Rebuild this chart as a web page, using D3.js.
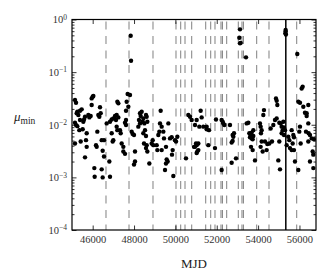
<!DOCTYPE html>
<html>
<head>
<meta charset="utf-8">
<script src="https://cdn.jsdelivr.net/npm/d3@7"></script>
<style>
  body { margin: 0; background: #fff; }
  svg { display: block; }
</style>
</head>
<body>
<svg id="chart"></svg>
<script>
// ---- data ----
let mjd = [
  45145, 45194, 45226, 45258, 45307, 45387, 45468, 45548, 45145, 45194, 45387, 45581, 45710,
  45355, 45516, 45677, 45710, 45629, 45629, 45420, 45145, 45258,
  46000, 45951, 46032, 45951, 45790, 45903, 45839, 46354, 46274, 46322, 46387, 46225, 46161,
  46193, 46435, 46548, 46483, 46548, 46806, 46080, 46096, 46435, 46483, 46838, 46677, 46838,
  46919, 46999, 47080, 47160, 47241, 47128, 47193, 47241, 46919, 46999, 46967, 47160, 47193,
  47322, 47354, 47402, 47483, 47483, 47563, 47563, 47612, 47612, 47644, 47692, 47805, 47612,
  47725, 47838, 47855, 47886, 47934, 47999, 48047, 47999, 48047, 48208, 48289, 48240, 48289,
  48369, 48321, 48450, 48418, 48498, 48579, 48611, 48643, 48531, 48450, 48579, 48482, 48579,
  48643, 48611, 48740, 48853, 48934, 48901, 49095, 49127, 49175, 49224, 49288, 49256, 49336,
  49417, 49449, 49546, 49336, 49546, 49627, 49498, 49578, 49659, 49740, 49820, 49869, 49836,
  49901, 49981, 50030, 50094, 50513, 50626, 50707, 50949, 51029, 50997, 50900, 51029, 51110,
  50787, 50948, 51028, 51061, 51109, 51157, 51270, 51222, 51351, 51512, 51512, 51593, 51625,
  51915, 51963, 52286, 52318, 52237, 52366, 52640, 52721, 52769, 52802, 52834, 52769, 52721,
  52931, 52237, 53446, 53527, 53575, 53640, 53688, 53769, 53688, 53608, 53769, 53737, 53656,
  53737, 53849, 54091, 54123, 54172, 54284, 54252, 54139, 54123, 54220, 54172, 54333, 54414,
  54446, 54543, 54607, 54672, 54736, 54817, 54865, 54898, 54930, 54898, 55026, 55091, 55026,
  54978, 55059, 55139, 55187, 55139, 55220, 55252, 55300, 55252, 55381, 55461, 55510, 55542,
  55623, 55671, 55735, 55623, 55703, 55784, 55735, 55945, 56026, 55993, 56058, 56106, 56154,
  55945, 56026, 56187, 56267, 56348, 56348, 56428, 56428, 56316, 56445, 56428, 56509, 56590,
  56509, 56638, 56670, 56670, 56702,
  53124, 53092, 53157, 53124, 53415, 55332, 55320, 55345, 55332, 55895
]
let mu = [
  0.0295, 0.0262, 0.0165, 0.0177, 0.0153, 0.0185, 0.0196, 0.0114, 0.0109, 0.0099, 0.0123, 0.0126, 0.0069,
  0.0079, 0.0082, 0.0051, 0.0038, 0.0024, 0.0142, 0.0048, 0.0044, 0.0094,
  0.0341, 0.0317, 0.0352, 0.0237, 0.0153, 0.0147, 0.0138, 0.0215, 0.0153, 0.0142, 0.0165, 0.0074, 0.0041,
  0.0038, 0.0051, 0.0051, 0.0032, 0.0025, 0.0020, 0.0015, 0.00103, 0.00142, 0.00100, 0.00103, 0.0106, 0.0114,
  0.0126, 0.0132, 0.0147, 0.0153, 0.0138, 0.0123, 0.0274, 0.0255, 0.0069, 0.0051, 0.0048, 0.0092, 0.0079,
  0.0079, 0.0069, 0.0044, 0.0038, 0.0031, 0.0028, 0.0109, 0.0099, 0.0123, 0.0274, 0.0384, 0.0367, 0.0185,
  0.022, 0.49, 0.165, 0.0074, 0.0067, 0.0064, 0.0020, 0.00176, 0.0031, 0.0092, 0.0106, 0.0123, 0.0165,
  0.0177, 0.0147, 0.0132, 0.0114, 0.0106, 0.0153, 0.0142, 0.0114, 0.0079, 0.0069, 0.0061, 0.0044, 0.0036,
  0.0031, 0.0041, 0.00184, 0.0044, 0.0041, 0.0051, 0.0041, 0.0033, 0.0064, 0.0074, 0.0185, 0.0106, 0.0092,
  0.0074, 0.0055, 0.0038, 0.0033, 0.00184, 0.0020, 0.00138, 0.0022, 0.0106, 0.0055, 0.0058, 0.0033, 0.0027,
  0.00106, 0.0051, 0.0048, 0.0059, 0.0023, 0.0153, 0.0142, 0.0099, 0.0123, 0.0044, 0.0038, 0.0029, 0.0033,
  0.0123, 0.0038, 0.0041, 0.0031, 0.0044, 0.0092, 0.0138, 0.0185, 0.0092, 0.0092, 0.0082, 0.0041, 0.0079,
  0.0036, 0.0126, 0.0114, 0.0106, 0.0123, 0.0099, 0.0099, 0.0046, 0.0064, 0.0059, 0.0069, 0.0049, 0.0019,
  0.0023, 0.00138, 0.0106, 0.0109, 0.0069, 0.0064, 0.0055, 0.0061, 0.0071, 0.0058, 0.0079, 0.0053, 0.0038,
  0.0033, 0.0021, 0.0106, 0.0092, 0.0079, 0.019, 0.0153, 0.0069, 0.0038, 0.0031, 0.0048, 0.0048, 0.0033,
  0.0043, 0.0044, 0.0085, 0.0048, 0.0099, 0.0123, 0.0317, 0.0286, 0.0237, 0.0132, 0.0109, 0.0106, 0.0048,
  0.0021, 0.00142, 0.0092, 0.0079, 0.0069, 0.0114, 0.0089, 0.0079, 0.0064, 0.0041, 0.0059, 0.0051, 0.0036,
  0.0033, 0.0044, 0.0058, 0.0079, 0.0064, 0.0020, 0.0033, 0.00138, 0.0092, 0.0074, 0.0044, 0.049, 0.053,
  0.0274, 0.0262, 0.022, 0.0169, 0.0165, 0.0147, 0.0237, 0.0106, 0.0074, 0.0069, 0.0048, 0.0064, 0.0055,
  0.0020, 0.0031, 0.0027, 0.0015, 0.0053,
  0.65, 0.45, 0.36, 0.352, 0.191, 0.59, 0.55, 0.52, 0.63, 0.221
]
// dashed epochs and the solid one
let dashedMjd = [46644, 47757, 48917, 50029, 50257, 50465, 50789, 51466, 51708, 51915,
                 52205, 52275, 52481, 53042, 53220, 53290, 53932, 54527, 55867]
let solidMjd = 55340

let xTicks = [46000, 48000, 50000, 52000, 54000, 56000]
let yTicks = [1e-4, 1e-3, 1e-2, 1e-1, 1]
let yExp = ['\u22124', '\u22123', '\u22122', '\u22121', '0']

let width = 330
let height = 280
let pLeft = 72, pRight = 316, pTop = 19.5, pBottom = 230

let svg = d3.select('#chart').attr('width', width).attr('height', height)
let font = '"Liberation Serif", "DejaVu Serif", serif'

let xScale = d3.scaleLinear().domain([45000, 56800]).range([pLeft, pRight])
let yScale = d3.scaleLog().domain([1e-4, 1]).range([pBottom, pTop])

svg.append('defs').append('clipPath').attr('id', 'clip')
   .append('rect').attr('x', pLeft).attr('y', pTop)
   .attr('width', pRight - pLeft).attr('height', pBottom - pTop)

let plot = svg.append('g').attr('clip-path', 'url(#clip)')

// vertical lines
plot.selectAll('line.dash')
    .data(dashedMjd)
    .enter()
    .append('line')
    .attr('class', 'dash')
    .attr('x1', d => xScale(d)).attr('x2', d => xScale(d))
    .attr('y1', pTop + 2).attr('y2', pBottom)
    .attr('stroke', '#808080')
    .attr('stroke-width', 1)
    .attr('stroke-dasharray', '8,6.5')

plot.append('line')
    .attr('x1', xScale(solidMjd)).attr('x2', xScale(solidMjd))
    .attr('y1', pTop).attr('y2', pBottom)
    .attr('stroke', '#000')
    .attr('stroke-width', 1.5)

// points
plot.selectAll('circle')
    .data(mjd.map((m, i) => ({ m: m, v: mu[i] })))
    .enter()
    .append('circle')
    .attr('cx', d => xScale(d.m))
    .attr('cy', d => yScale(d.v))
    .attr('r', 2.2)
    .attr('fill', '#000')

// minor log ticks
let minor = []
for (let e = -4; e < 0; e++) {
  for (let k = 2; k <= 9; k++) minor.push(k * Math.pow(10, e))
}

let styleAxis = g => {
  g.select('.domain').remove()
  g.selectAll('line').attr('stroke', '#000').attr('stroke-width', 0.8)
  g.selectAll('text').attr('font-family', font).attr('font-size', 10.5).attr('fill', '#333')
}

// x axes (bottom + top), ticks pointing in
svg.append('g')
   .attr('transform', 'translate(0,' + pBottom + ')')
   .call(d3.axisBottom(xScale).tickValues(xTicks).tickSize(-4.5).tickPadding(6).tickFormat(d3.format('d')))
   .call(styleAxis)
svg.append('g')
   .attr('transform', 'translate(0,' + pTop + ')')
   .call(d3.axisTop(xScale).tickValues(xTicks).tickSize(-4.5).tickFormat(''))
   .call(styleAxis)

// y axes (left + right)
let yLeft = svg.append('g')
   .attr('transform', 'translate(' + pLeft + ',0)')
   .call(d3.axisLeft(yScale).tickValues(yTicks).tickSize(-4.5).tickPadding(5).tickFormat(''))
   .call(styleAxis)
yLeft.selectAll('.tick text').each(function (d, i) {
  let t = d3.select(this).attr('dy', '0.32em')
  t.append('tspan').text('10')
  t.append('tspan').attr('dy', '-0.5em').attr('font-size', 7.5).text(yExp[i])
})
svg.append('g')
   .attr('transform', 'translate(' + pLeft + ',0)')
   .call(d3.axisLeft(yScale).tickValues(minor).tickSize(-2.5).tickFormat(''))
   .call(styleAxis)
svg.append('g')
   .attr('transform', 'translate(' + pRight + ',0)')
   .call(d3.axisRight(yScale).tickValues(yTicks).tickSize(-4.5).tickFormat(''))
   .call(styleAxis)
svg.append('g')
   .attr('transform', 'translate(' + pRight + ',0)')
   .call(d3.axisRight(yScale).tickValues(minor).tickSize(-2.5).tickFormat(''))
   .call(styleAxis)

// frame
svg.append('rect')
   .attr('x', pLeft).attr('y', pTop)
   .attr('width', pRight - pLeft).attr('height', pBottom - pTop)
   .attr('fill', 'none').attr('stroke', '#000').attr('stroke-width', 1.2)

// axis labels
svg.append('text')
   .attr('x', (pLeft + pRight) / 2).attr('y', 268)
   .attr('text-anchor', 'middle')
   .attr('font-family', font).attr('font-size', 13).attr('fill', '#222')
   .text('MJD')

let yl = svg.append('text')
   .attr('x', 14).attr('y', 121)
   .attr('font-family', font).attr('font-size', 13).attr('fill', '#222')
yl.append('tspan').attr('font-style', 'italic').text('\u03bc')
yl.append('tspan').attr('dy', '0.3em').attr('font-size', 9.5).text('min')
</script>
</body>
</html>
